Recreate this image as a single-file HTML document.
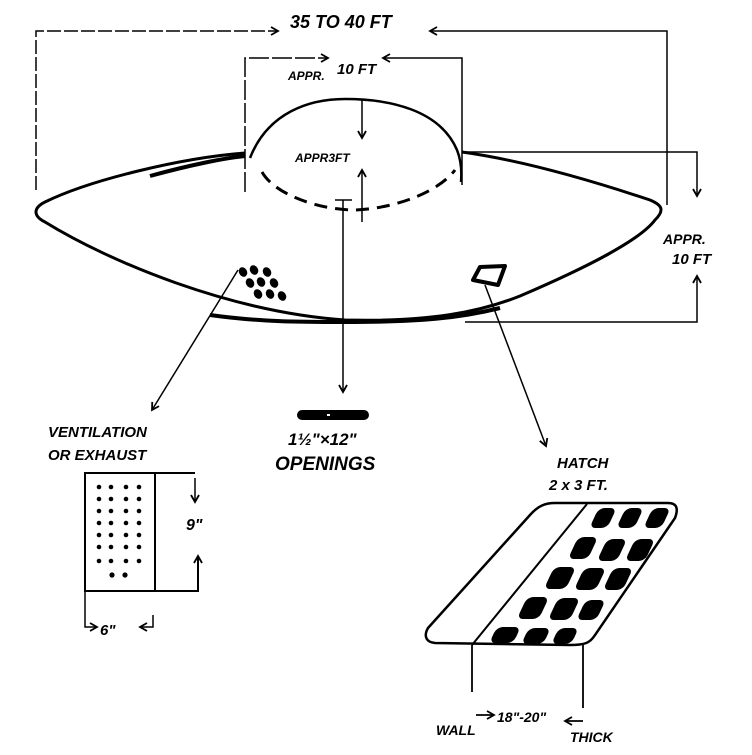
<!DOCTYPE html>
<html><head><meta charset="utf-8"><style>
html,body{margin:0;padding:0;background:#fff;}
svg{display:block}
text{font-family:"Liberation Sans",sans-serif;font-style:italic;font-weight:bold;fill:#000;}
</style></head><body>
<svg width="752" height="755" viewBox="0 0 752 755" xmlns="http://www.w3.org/2000/svg">
<defs>
<marker id="a" markerWidth="10" markerHeight="10" refX="8" refY="5" orient="auto" markerUnits="userSpaceOnUse"><path d="M1,1 L8,5 L1,9" fill="none" stroke="#000" stroke-width="1.8"/></marker>
</defs>
<g fill="none" stroke="#000" stroke-width="1.5">
<path d="M36,190 L36,31 L278,31" stroke-dasharray="14,3" marker-end="url(#a)"/>
<path d="M667,205 L667,31 L430,31" marker-end="url(#a)"/>
<path d="M245,192 L245,58 L328,58" stroke-dasharray="20,3" marker-end="url(#a)"/>
<path d="M462,185 L462,58 L383,58" marker-end="url(#a)"/>
<path d="M362,100 L362,138" marker-end="url(#a)"/>
<path d="M362,222 L362,170" marker-end="url(#a)"/>
<path d="M462,152 L697,152 L697,196" marker-end="url(#a)"/>
<path d="M465,322 L697,322 L697,276" marker-end="url(#a)"/>
<path d="M343,200 L343,392" marker-end="url(#a)"/>
<path d="M335,200 L352,200"/>
<path d="M238,270 L152,410" marker-end="url(#a)"/>
<path d="M485,285 L546,446" marker-end="url(#a)"/>
</g>
<path d="M245,153 C180,158 90,180 45,202 C33,208 33,216 45,222 C110,262 230,312 345,320 C430,322 480,312 520,296 C590,266 640,240 655,220 C665,210 662,205 650,200 C590,180 520,160 462,152" fill="none" stroke="#000" stroke-width="3"/>
<path d="M150,176 C190,165 225,158 245,156" fill="none" stroke="#000" stroke-width="4"/>
<path d="M210,315 C260,322 300,322 345,322 C420,322 460,318 500,308" fill="none" stroke="#000" stroke-width="4"/>
<path d="M250,158 C268,112 310,99 345,99 C390,99 440,110 457,150 C461,160 462,170 461,182" fill="none" stroke="#000" stroke-width="2.5"/>
<path d="M262,172 C275,195 320,210 355,210 C400,208 440,190 455,170" fill="none" stroke="#000" stroke-width="3" stroke-dasharray="13,8"/>
<g fill="#000">
<ellipse cx="243" cy="272" rx="4" ry="5" transform="rotate(-30 243 272)"/>
<ellipse cx="254" cy="270" rx="4" ry="5" transform="rotate(-30 254 270)"/>
<ellipse cx="267" cy="272" rx="4" ry="5" transform="rotate(-30 267 272)"/>
<ellipse cx="250" cy="283" rx="4" ry="5" transform="rotate(-30 250 283)"/>
<ellipse cx="261" cy="282" rx="4" ry="5" transform="rotate(-30 261 282)"/>
<ellipse cx="274" cy="283" rx="4" ry="5" transform="rotate(-30 274 283)"/>
<ellipse cx="258" cy="294" rx="4" ry="5" transform="rotate(-30 258 294)"/>
<ellipse cx="270" cy="294" rx="4" ry="5" transform="rotate(-30 270 294)"/>
<ellipse cx="282" cy="296" rx="4" ry="5" transform="rotate(-30 282 296)"/>
</g>
<path d="M473,280 L480,267 L505,266 L498,285 Z" fill="none" stroke="#000" stroke-width="4" stroke-linejoin="round"/>
<text x="290" y="28" font-size="18">35 TO 40 FT</text>
<text x="288" y="80" font-size="12">APPR.</text>
<text x="337" y="74" font-size="15">10 FT</text>
<text x="295" y="162" font-size="12">APPR3FT</text>
<text x="663" y="244" font-size="14">APPR.</text>
<text x="672" y="264" font-size="15">10 FT</text>
<rect x="297" y="410" width="72" height="10" rx="5" fill="#000"/>
<rect x="327" y="414" width="3" height="2" fill="#fff"/>
<text x="288" y="445" font-size="17">1½"×12"</text>
<text x="275" y="470" font-size="19">OPENINGS</text>
<text x="48" y="437" font-size="15">VENTILATION</text>
<text x="48" y="460" font-size="15">OR EXHAUST</text>
<g fill="none" stroke="#000" stroke-width="2">
<rect x="85" y="473" width="70" height="118"/>
<path d="M155,473 L195,473"/>
<path d="M155,591 L198,591 L198,556" marker-end="url(#a)"/>
<path d="M195,478 L195,502" stroke-width="1.5" marker-end="url(#a)"/>
<path d="M85,591 L85,627 L97,627" stroke-width="1.5" marker-end="url(#a)"/>
<path d="M153,615 L153,627 L140,627" stroke-width="1.5" marker-end="url(#a)"/>
</g>
<text x="186" y="530" font-size="16">9"</text>
<text x="100" y="635" font-size="15">6"</text>
<g fill="#000">
<circle cx="99" cy="487" r="2.3"/><circle cx="111" cy="487" r="2.3"/><circle cx="126" cy="487" r="2.3"/><circle cx="139" cy="487" r="2.3"/>
<circle cx="99" cy="499" r="2.3"/><circle cx="111" cy="499" r="2.3"/><circle cx="126" cy="499" r="2.3"/><circle cx="139" cy="499" r="2.3"/>
<circle cx="99" cy="511" r="2.3"/><circle cx="111" cy="511" r="2.3"/><circle cx="126" cy="511" r="2.3"/><circle cx="139" cy="511" r="2.3"/>
<circle cx="99" cy="523" r="2.3"/><circle cx="111" cy="523" r="2.3"/><circle cx="126" cy="523" r="2.3"/><circle cx="139" cy="523" r="2.3"/>
<circle cx="99" cy="535" r="2.3"/><circle cx="111" cy="535" r="2.3"/><circle cx="126" cy="535" r="2.3"/><circle cx="139" cy="535" r="2.3"/>
<circle cx="99" cy="547" r="2.3"/><circle cx="111" cy="547" r="2.3"/><circle cx="126" cy="547" r="2.3"/><circle cx="139" cy="547" r="2.3"/>
<circle cx="99" cy="561" r="2.3"/><circle cx="111" cy="561" r="2.3"/><circle cx="126" cy="561" r="2.3"/><circle cx="139" cy="561" r="2.3"/>
<circle cx="112" cy="575" r="2.6"/><circle cx="125" cy="575" r="2.6"/>
</g>
<text x="557" y="468" font-size="15">HATCH</text>
<text x="549" y="490" font-size="15">2 x 3 FT.</text>
<path d="M555,503 L668,503 C678,503 678,510 675,518 L595,635 C590,643 585,645 570,645 L435,643 C425,642 424,635 428,628 L530,515 C538,506 545,503 555,503 Z" fill="none" stroke="#000" stroke-width="2.5"/>
<path d="M587,504 L472,645" fill="none" stroke="#000" stroke-width="2"/>
<g fill="#000">
<rect x="-9" y="-10" width="18" height="20" rx="6" transform="translate(603,518) skewX(-25)"/>
<rect x="-9" y="-10" width="18" height="20" rx="6" transform="translate(630,518) skewX(-25)"/>
<rect x="-9" y="-10" width="18" height="20" rx="6" transform="translate(657,518) skewX(-25)"/>
<rect x="-10" y="-11" width="20" height="22" rx="6" transform="translate(583,548) skewX(-25)"/>
<rect x="-10" y="-11" width="20" height="22" rx="6" transform="translate(612,550) skewX(-25)"/>
<rect x="-10" y="-11" width="20" height="22" rx="6" transform="translate(640,550) skewX(-25)"/>
<rect x="-11" y="-11" width="22" height="22" rx="6" transform="translate(560,578) skewX(-25)"/>
<rect x="-11" y="-11" width="22" height="22" rx="6" transform="translate(590,579) skewX(-25)"/>
<rect x="-10" y="-11" width="20" height="22" rx="6" transform="translate(618,579) skewX(-25)"/>
<rect x="-11" y="-11" width="22" height="22" rx="6" transform="translate(533,608) skewX(-25)"/>
<rect x="-11" y="-11" width="22" height="22" rx="6" transform="translate(564,609) skewX(-25)"/>
<rect x="-10" y="-10" width="20" height="20" rx="6" transform="translate(591,610) skewX(-25)"/>
<rect x="-12" y="-8" width="24" height="16" rx="6" transform="translate(505,635) skewX(-25)"/>
<rect x="-11" y="-8" width="22" height="16" rx="6" transform="translate(536,636) skewX(-25)"/>
<rect x="-10" y="-8" width="20" height="16" rx="6" transform="translate(565,636) skewX(-25)"/>
</g>
<g fill="none" stroke="#000" stroke-width="1.8">
<path d="M472,645 L472,692"/>
<path d="M583,645 L583,708"/>
<path d="M476,715 L494,715" marker-end="url(#a)"/>
<path d="M583,721 L565,721" marker-end="url(#a)"/>
</g>
<text x="436" y="735" font-size="14">WALL</text>
<text x="497" y="722" font-size="14">18"-20"</text>
<text x="570" y="742" font-size="14">THICK</text>
</svg>
</body></html>
